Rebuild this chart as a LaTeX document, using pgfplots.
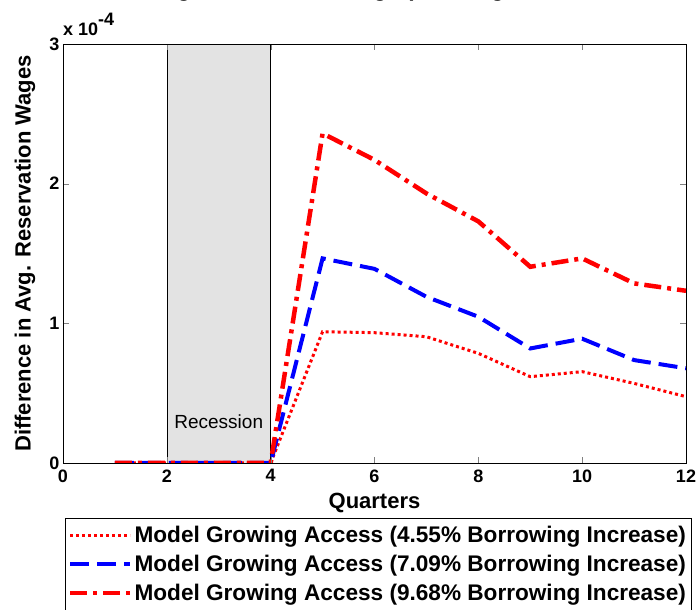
\documentclass[border=0pt]{standalone}
\usepackage{fontspec}
\setmainfont{Liberation Sans}
\usepackage{pgfplots}
\pgfplotsset{compat=1.18}
\definecolor{recgray}{RGB}{227,227,227}
\begin{document}
\begin{tikzpicture}
\begin{axis}[
  at={(0,0)}, anchor=south west,
  width=623pt, height=419pt, scale only axis,
  xmin=0, xmax=12, ymin=0, ymax=3e-4,
  xtick={0,2,...,12},
  ytick={0,1e-4,2e-4,3e-4},
  scaled y ticks=base 10:4,
  ytick scale label code/.code={\fontsize{18}{20}\selectfont\bfseries x 10\raisebox{10pt}{-4}},
  every y tick scale label/.style={at={(rel axis cs:0,1)}, anchor=south west, inner sep=0pt, yshift=8pt},
  tick label style={font=\fontsize{18}{20}\selectfont\bfseries},
  xticklabel style={yshift=-3pt},
  /pgf/number format/assume math mode=true,
  tick align=inside,
  major tick length=6pt,
  axis line style={line width=0.8pt},
  axis on top,
  title={Difference in Avg. Reservation Wage (Growing Access Fixed Assets)},
  title style={font=\fontsize{22.5}{26}\selectfont\bfseries, at={(axis description cs:0.5,1)}, anchor=base, yshift=41pt},
  xlabel={Quarters},
  xlabel style={font=\fontsize{22}{26}\selectfont\bfseries, at={(axis description cs:0.5,-0.096)}, anchor=center},
  ylabel={Difference in Avg. Reservation Wages},
  ylabel style={font=\fontsize{22}{26}\selectfont\bfseries, at={(axis description cs:-0.061,0.5)}, anchor=center},
  legend style={at={(axis description cs:0.003,-0.131)}, anchor=north west, draw=black,
    font=\fontsize{22.6}{26}\selectfont\bfseries, row sep=7pt, inner xsep=3pt, inner ysep=6pt},
  legend cell align=left,
  legend image code/.code={\draw[#1] (0pt,0pt) -- (60pt,0pt);},
]
\addplot[fill=recgray, draw=black, line width=0.6pt, forget plot]
  coordinates {(2,0) (4,0) (4,3e-4) (2,3e-4)} -- cycle;

\addplot[red, line width=3pt, dash pattern=on 3pt off 3pt]
  coordinates {(1,0)(2,0)(3,0)(4,0)(5,0.94e-4)(6,0.933e-4)(7,0.904e-4)(8,0.785e-4)(9,0.618e-4)(10,0.654e-4)(11,0.57e-4)(12,0.475e-4)};
\addlegendentry{Model Growing Access (4.55\% Borrowing Increase)}

\addplot[blue, line width=4pt, dash pattern=on 19pt off 8pt]
  coordinates {(1,0)(2,0)(3,0)(4,0)(5,1.465e-4)(6,1.39e-4)(7,1.19e-4)(8,1.047e-4)(9,0.82e-4)(10,0.89e-4)(11,0.737e-4)(12,0.678e-4)};
\addlegendentry{Model Growing Access (7.09\% Borrowing Increase)}

\addplot[red, line width=4.5pt, dash pattern=on 17pt off 6pt on 4pt off 6pt]
  coordinates {(1,0)(2,0)(3,0)(4,0)(5,2.36e-4)(6,2.17e-4)(7,1.93e-4)(8,1.73e-4)(9,1.405e-4)(10,1.465e-4)(11,1.286e-4)(12,1.233e-4)};
\addlegendentry{Model Growing Access (9.68\% Borrowing Increase)}

\node[font=\fontsize{19}{21}\selectfont] at (axis cs:3,0.293e-4) {Recession};
\end{axis}
\pgfresetboundingbox
\path (-63pt,-147pt) rectangle (636pt,463pt);
\end{tikzpicture}
\end{document}
